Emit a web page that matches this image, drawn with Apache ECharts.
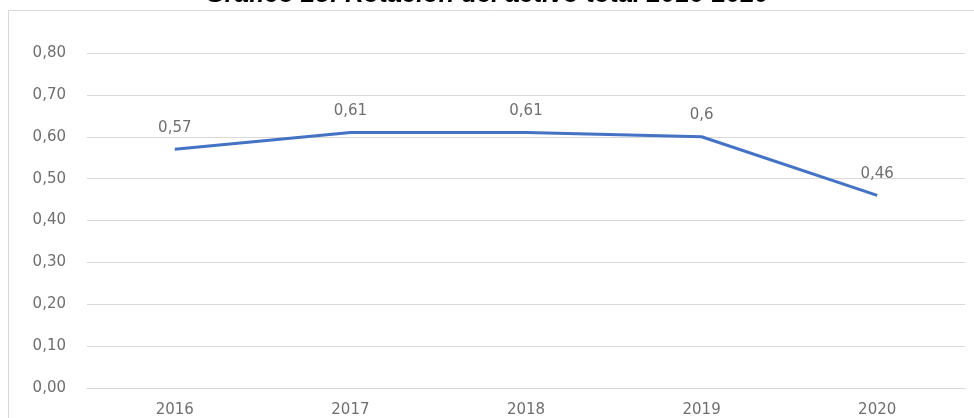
<!DOCTYPE html>
<html><head><meta charset="utf-8">
<script src="https://cdn.jsdelivr.net/npm/echarts@6/dist/echarts.min.js"></script>
<style>html,body{margin:0;padding:0;background:#fff}#c{width:974px;height:418px}</style>
</head><body><div id="c"></div>
<script>
const titleText = "Gráfico 23: Rotación del activo total 2016-2020";
const categories = ["2016", "2017", "2018", "2019", "2020"];
const values = [0.57, 0.61, 0.61, 0.6, 0.46];
const fmtComma = v => String(v).replace('.', ',');
const chart = echarts.init(document.getElementById('c'), null, {renderer: 'canvas'});
chart.setOption({
  backgroundColor: '#fff',
  animation: false,
  title: {
    text: titleText, left: 'center', top: -23,
    textStyle: {fontFamily: 'Liberation Sans', fontStyle: 'italic', fontWeight: 'bold', fontSize: 25.5, color: '#000'}
  },
  graphic: [{
    type: 'rect', shape: {x: 8.5, y: 10.5, width: 980, height: 420},
    style: {fill: 'none', stroke: '#d9d9d9', lineWidth: 1}, z: -1
  }],
  grid: {left: 87, right: 9, top: 53, bottom: 28},
  xAxis: {
    type: 'category', data: categories, boundaryGap: true,
    axisLine: {show: true, lineStyle: {color: '#d9d9d9'}},
    axisTick: {show: false},
    axisLabel: {color: '#6f6f6f', fontFamily: 'DejaVu Sans', fontSize: 15, margin: 15}
  },
  yAxis: {
    type: 'value', min: 0, max: 0.8, interval: 0.1,
    axisLine: {show: false}, axisTick: {show: false},
    splitLine: {lineStyle: {color: '#d9d9d9', width: 1}},
    axisLabel: {color: '#6f6f6f', fontFamily: 'DejaVu Sans', fontSize: 15, margin: 21,
      formatter: v => v.toFixed(2).replace('.', ',')}
  },
  series: [{
    type: 'line', data: values, symbol: 'circle', symbolSize: 2, showSymbol: true,
    itemStyle: {color: 'rgba(68,114,196,0)', borderWidth: 0},
    lineStyle: {color: '#4472C4', width: 3},
    label: {show: true, position: 'top', distance: 13, color: '#6f6f6f', fontFamily: 'DejaVu Sans', fontSize: 15,
      formatter: p => fmtComma(p.value)}
  }]
});
</script></body></html>
